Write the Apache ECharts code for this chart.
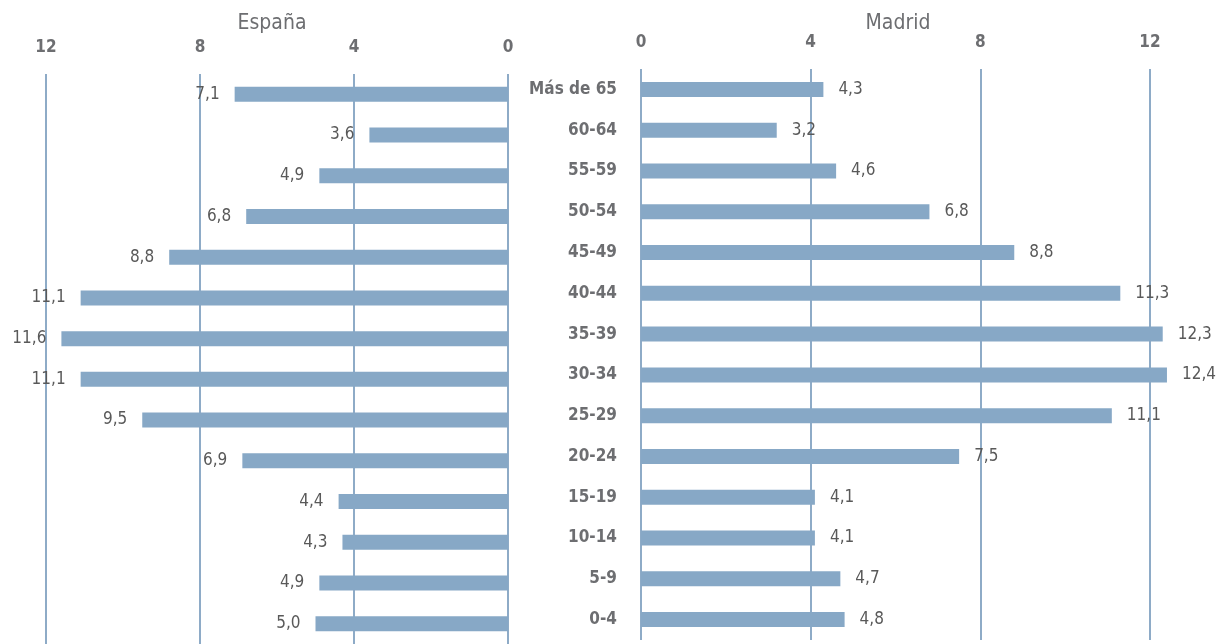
<!DOCTYPE html>
<html>
<head>
<meta charset="utf-8">
<script src="https://cdn.jsdelivr.net/npm/echarts@6/dist/echarts.min.js"></script>
<style>
  html, body { margin: 0; padding: 0; background: #fff; }
  #piramide { width: 1231px; height: 644px; }
</style>
</head>
<body>
<div id="piramide"></div>
<script>
// grupos de edad, de arriba abajo
const grupos = ['Más de 65', '60-64', '55-59', '50-54', '45-49', '40-44', '35-39',
  '30-34', '25-29', '20-24', '15-19', '10-14', '5-9', '0-4'];
const espana = [7.1, 3.6, 4.9, 6.8, 8.8, 11.1, 11.6, 11.1, 9.5, 6.9, 4.4, 4.3, 4.9, 5.0];
const madrid = [4.3, 3.2, 4.6, 6.8, 8.8, 11.3, 12.3, 12.4, 11.1, 7.5, 4.1, 4.1, 4.7, 4.8];
const titulos = ['España', 'Madrid'];

const fontFam = '"Liberation Sans Narrow", "DejaVu Sans Condensed", "Arial Narrow", sans-serif';
const barColor = '#87a8c6';
const lineColor = '#8eabc7';
const textGray = '#6d6e71';
const valueGray = '#595959';

let chart = echarts.init(document.getElementById('piramide'));

function coma(p) {
  return p.value.toFixed(1).replace('.', ',');
}

chart.setOption({
  backgroundColor: '#fff',
  animation: false,
  textStyle: { fontFamily: fontFam },
  title: [
    {
      text: titulos[0], left: 267, top: 8, textAlign: 'center',
      textStyle: { color: textGray, fontSize: 21, fontWeight: 'normal', fontFamily: fontFam }
    },
    {
      text: titulos[1], left: 893, top: 8, textAlign: 'center',
      textStyle: { color: textGray, fontSize: 21, fontWeight: 'normal', fontFamily: fontFam }
    }
  ],
  grid: [
    { left: 46, right: 723, top: 74, height: 577 },
    { left: 641, right: 81, top: 69, height: 571 }
  ],
  xAxis: [
    {
      gridIndex: 0, type: 'value', inverse: true, position: 'top',
      min: 0, max: 12, interval: 4,
      axisLine: { show: false }, axisTick: { show: false },
      axisLabel: { color: textGray, fontSize: 17, fontWeight: 'bold', margin: 18, fontFamily: fontFam },
      splitLine: { show: true, lineStyle: { color: lineColor, width: 2 } }
    },
    {
      gridIndex: 1, type: 'value', position: 'top',
      min: 0, max: 12, interval: 4,
      axisLine: { show: false }, axisTick: { show: false },
      axisLabel: { color: textGray, fontSize: 17, fontWeight: 'bold', margin: 18, fontFamily: fontFam },
      splitLine: { show: true, lineStyle: { color: lineColor, width: 2 } }
    }
  ],
  yAxis: [
    {
      gridIndex: 0, type: 'category', inverse: true, data: grupos,
      axisLine: { show: false }, axisTick: { show: false }, axisLabel: { show: false }
    },
    {
      gridIndex: 1, type: 'category', inverse: true, data: grupos,
      axisLine: { show: false }, axisTick: { show: false },
      axisLabel: {
        color: textGray, fontSize: 17, fontWeight: 'bold', margin: 24,
        align: 'right', fontFamily: fontFam
      }
    }
  ],
  series: [
    {
      name: titulos[0], type: 'bar', xAxisIndex: 0, yAxisIndex: 0,
      data: espana, barWidth: 15, clip: false,
      itemStyle: { color: barColor },
      label: {
        show: true, position: 'left', distance: 15, formatter: coma,
        color: valueGray, fontSize: 17, fontFamily: fontFam
      }
    },
    {
      name: titulos[1], type: 'bar', xAxisIndex: 1, yAxisIndex: 1,
      data: madrid, barWidth: 15, clip: false,
      itemStyle: { color: barColor },
      label: {
        show: true, position: 'right', distance: 15, formatter: coma,
        color: valueGray, fontSize: 17, fontFamily: fontFam
      }
    }
  ]
});

window.addEventListener('resize', function () {
  chart.resize();
});
</script>
</body>
</html>
